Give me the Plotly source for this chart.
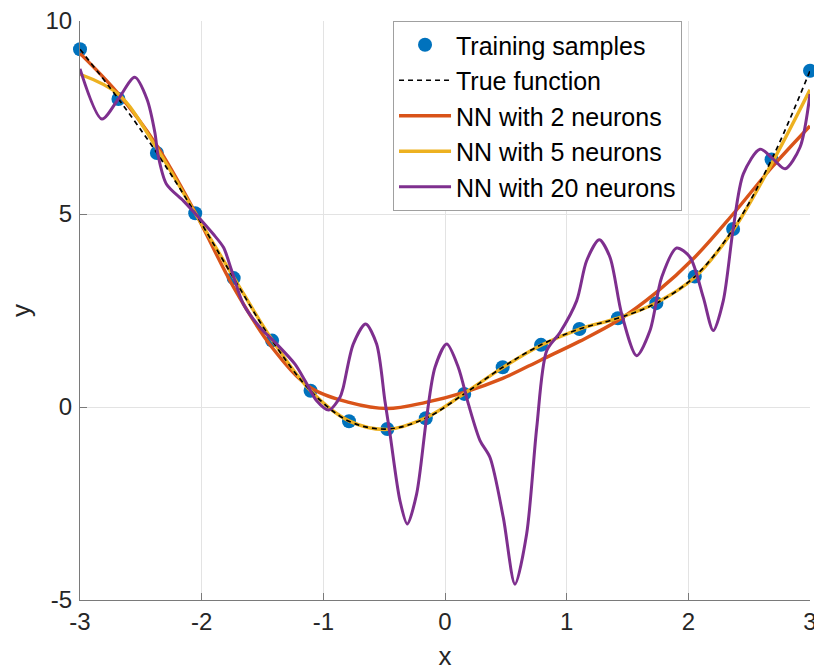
import plotly.graph_objects as go

# training samples / true function, sampled on the same 20-point grid
sample_x = [-3.0, -2.684, -2.368, -2.053, -1.737, -1.421, -1.105, -0.789, -0.474, -0.158,
            0.158, 0.474, 0.789, 1.105, 1.421, 1.737, 2.053, 2.368, 2.684, 3.0]
sample_y = [9.27, 7.98, 6.58, 5.02, 3.34, 1.72, 0.42, -0.37, -0.57, -0.29,
            0.34, 1.03, 1.61, 2.02, 2.30, 2.69, 3.38, 4.61, 6.41, 8.71]
true_y = [9.27, 7.98, 6.58, 5.02, 3.34, 1.72, 0.42, -0.37, -0.57, -0.29,
          0.34, 1.03, 1.61, 2.02, 2.30, 2.69, 3.38, 4.61, 6.41, 8.71]

nn2_y = [9.16, 8.11, 6.77, 5.04, 3.10, 1.54, 0.50, 0.12, -0.04, 0.12,
         0.38, 0.74, 1.22, 1.70, 2.24, 2.97, 3.88, 5.00, 6.20, 7.28]
nn5_y = [8.62, 8.10, 6.70, 5.02, 3.36, 1.74, 0.42, -0.36, -0.58, -0.28,
         0.35, 1.02, 1.60, 2.02, 2.30, 2.70, 3.36, 4.58, 6.30, 8.22]

nn20_x = [-3.0, -2.82, -2.685, -2.55, -2.45, -2.384, -2.36, -2.29, -2.15, -2.05,
          -1.905, -1.82, -1.753, -1.658, -1.52, -1.383, -1.233, -1.15, -1.055, -0.955,
          -0.863, -0.836, -0.754, -0.652, -0.562, -0.494, -0.452, -0.37, -0.31, -0.233,
          -0.151, -0.082, 0.014, 0.109, 0.192, 0.288, 0.37, 0.479, 0.575, 0.671,
          0.754, 0.836, 0.945, 1.082, 1.164, 1.268, 1.356, 1.452, 1.575, 1.685,
          1.781, 1.904, 2.014, 2.123, 2.205, 2.287, 2.37, 2.452, 2.589, 2.698,
          2.795, 2.918, 3.0]
nn20_y = [8.76, 7.46, 7.98, 8.54, 7.98, 7.10, 6.55, 5.78, 5.34, 5.0,
          4.48, 4.13, 3.53, 2.67, 2.06, 1.63, 1.11, 0.68, 0.16, -0.08,
          0.25, 0.51, 1.63, 2.15, 1.63, 0.16, -0.70, -2.43, -3.03, -2.25,
          -0.27, 1.03, 1.63, 1.03, 0.08, -0.87, -1.31, -2.86, -4.59, -3.29,
          -0.53, 1.46, 1.93, 2.75, 3.79, 4.33, 3.88, 2.41, 1.33, 1.98,
          3.36, 4.12, 3.88, 2.84, 1.98, 2.75, 4.65, 6.04, 6.68, 6.42,
          6.17, 6.73, 8.11]

x_ticks = [-3, -2, -1, 0, 1, 2, 3]
x_labels = ["-3", "-2", "-1", "0", "1", "2", "3"]
y_ticks = [-5, 0, 5, 10]
y_labels = ["-5", "0", "5", "10"]

FONT = "Liberation Sans, Arial, Helvetica, sans-serif"
TEXT = "#262626"

fig = go.Figure()

fig.add_trace(go.Scatter(
    x=sample_x, y=sample_y, mode="markers", name="Training samples",
    marker=dict(color="#0072BD", size=14), cliponaxis=False, legendrank=1,
))
fig.add_trace(go.Scatter(
    x=sample_x, y=nn2_y, mode="lines", name="NN with 2 neurons",
    line=dict(color="#D95319", width=3.4, shape="spline"), legendrank=3,
))
fig.add_trace(go.Scatter(
    x=sample_x, y=nn5_y, mode="lines", name="NN with 5 neurons",
    line=dict(color="#EDB120", width=3.4, shape="spline"), legendrank=4,
))
fig.add_trace(go.Scatter(
    x=sample_x, y=true_y, mode="lines", name="True function",
    line=dict(color="black", width=1.7, dash="5px,4px", shape="spline"), legendrank=2,
))
fig.add_trace(go.Scatter(
    x=nn20_x, y=nn20_y, mode="lines", name="NN with 20 neurons",
    line=dict(color="#7E2F8E", width=3, shape="spline", smoothing=0.8), legendrank=5,
))

axis_common = dict(
    showgrid=True, gridcolor="#e3e3e3", gridwidth=1,
    zeroline=False, showline=True, linecolor="#7a7a7a", linewidth=1,
    ticks="inside", ticklen=7, tickcolor="#7a7a7a",
    tickfont=dict(family=FONT, size=24, color=TEXT),
    ticklabeloverflow="allow", automargin=False, mirror=False,
)

fig.update_layout(
    width=814, height=671,
    paper_bgcolor="white", plot_bgcolor="white",
    margin=dict(l=80, r=4, t=21, b=71),
    font=dict(family=FONT, color=TEXT),
    xaxis=dict(axis_common, range=[-3, 3], tickvals=x_ticks, ticktext=x_labels,
               title=dict(text="x", font=dict(family=FONT, size=26, color=TEXT), standoff=17)),
    yaxis=dict(axis_common, range=[-5, 10], tickvals=y_ticks, ticktext=y_labels,
               ticklabelstandoff=2,
               title=dict(text="y", font=dict(family=FONT, size=26, color=TEXT), standoff=7)),
    legend=dict(
        x=0.4288, y=1, xanchor="left", yanchor="top",
        bgcolor="white", bordercolor="#a0a0a0", borderwidth=1,
        font=dict(family=FONT, size=25, color="black"),
        tracegroupgap=0, itemwidth=52,
    ),
)

fig.write_html("out.html", config={"displayModeBar": False},
               post_script="document.body.style.margin='0px';")
